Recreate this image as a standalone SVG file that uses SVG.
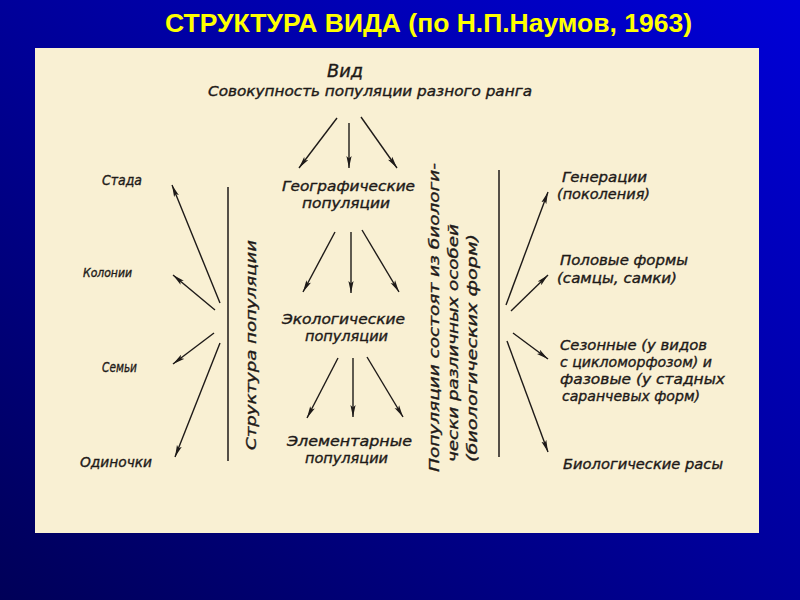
<svg xmlns="http://www.w3.org/2000/svg" width="800" height="600" viewBox="0 0 800 600">
  <defs>
    <linearGradient id="bg" x1="0" y1="1" x2="1" y2="0">
      <stop offset="0" stop-color="#000058"/>
      <stop offset="0.5" stop-color="#00009a"/>
      <stop offset="1" stop-color="#0000d8"/>
    </linearGradient>
    <marker id="ah" viewBox="0 0 12 6" refX="12" refY="3" markerWidth="12" markerHeight="6" markerUnits="userSpaceOnUse" orient="auto">
      <path d="M0,0.4 L12,3 L0,5.6 L2.5,3 z" fill="#1e1a18"/>
    </marker>
    <style>
      .ink { fill: #1e1a18; stroke: #1e1a18; stroke-width: 0.35; font-family: "DejaVu Sans", "Liberation Sans", sans-serif; font-style: oblique; font-stretch: condensed; font-size: 14.5px; }
      .big { font-size: 18px; }
      .sm { font-size: 13px; }
      .ln { stroke: #1e1a18; stroke-width: 1.5; fill: none; }
      .ar { stroke: #1e1a18; stroke-width: 1.4; fill: none; marker-end: url(#ah); }
      .title { fill: #ffff00; font-family: "Liberation Sans", Arial, sans-serif; font-weight: bold; font-size: 25px; }
    </style>
  </defs>
  <rect x="0" y="0" width="800" height="600" fill="url(#bg)"/>
  <text class="title" x="165" y="32" textLength="527" lengthAdjust="spacingAndGlyphs">СТРУКТУРА ВИДА (по Н.П.Наумов, 1963)</text>
  <rect x="35" y="48" width="724" height="485" fill="#f9f0d3"/>

  <g id="vid">
    <text class="ink big" x="327" y="77" textLength="36" lengthAdjust="spacingAndGlyphs">Вид</text>
    <text class="ink" x="208" y="96" textLength="324" lengthAdjust="spacingAndGlyphs">Совокупность популяции разного ранга</text>
  </g>
  <g id="geo">
    <text class="ink" x="282" y="191" textLength="133" lengthAdjust="spacingAndGlyphs">Географические</text>
    <text class="ink" x="302" y="208" textLength="88" lengthAdjust="spacingAndGlyphs">популяции</text>
  </g>
  <g id="eco">
    <text class="ink" x="282" y="324" textLength="123" lengthAdjust="spacingAndGlyphs">Экологические</text>
    <text class="ink" x="305" y="341" textLength="83" lengthAdjust="spacingAndGlyphs">популяции</text>
  </g>
  <g id="elem">
    <text class="ink" x="287" y="446" textLength="125" lengthAdjust="spacingAndGlyphs">Элементарные</text>
    <text class="ink" x="305" y="463" textLength="83" lengthAdjust="spacingAndGlyphs">популяции</text>
  </g>

  <g id="struktura">
    <text class="ink" transform="translate(256,450) rotate(-90)" x="0" y="0" textLength="210" lengthAdjust="spacingAndGlyphs">Структура популяции</text>
  </g>
  <g id="stada"><text class="ink" x="102" y="185" textLength="40" lengthAdjust="spacingAndGlyphs">Стада</text></g>
  <g id="kolonii"><text class="ink sm" x="83" y="277" textLength="49" lengthAdjust="spacingAndGlyphs">Колонии</text></g>
  <g id="semi"><text class="ink" x="102" y="372" textLength="35" lengthAdjust="spacingAndGlyphs">Семьи</text></g>
  <g id="odinochki"><text class="ink" x="80" y="467" textLength="72" lengthAdjust="spacingAndGlyphs">Одиночки</text></g>

  <g id="sostav">
    <text class="ink" transform="translate(439,472) rotate(-90)" x="0" y="0" textLength="309" lengthAdjust="spacingAndGlyphs">Популяции состоят из биологи-</text>
    <text class="ink" transform="translate(458,462) rotate(-90)" x="0" y="0" textLength="238" lengthAdjust="spacingAndGlyphs">чески различных      особей</text>
    <text class="ink" transform="translate(477,462) rotate(-90)" x="0" y="0" textLength="228" lengthAdjust="spacingAndGlyphs">(биологических форм)</text>
  </g>
  <g id="generacii">
    <text class="ink" x="562" y="182" textLength="85" lengthAdjust="spacingAndGlyphs">Генерации</text>
    <text class="ink" x="557" y="199" textLength="93" lengthAdjust="spacingAndGlyphs">(поколения)</text>
  </g>
  <g id="polovye">
    <text class="ink" x="560" y="265" textLength="128" lengthAdjust="spacingAndGlyphs">Половые формы</text>
    <text class="ink" x="557" y="283" textLength="120" lengthAdjust="spacingAndGlyphs">(самцы, самки)</text>
  </g>
  <g id="sezonnye">
    <text class="ink" x="560" y="350" textLength="147" lengthAdjust="spacingAndGlyphs">Сезонные (у видов</text>
    <text class="ink" x="560" y="367" textLength="152" lengthAdjust="spacingAndGlyphs">с цикломорфозом) и</text>
    <text class="ink" x="560" y="384" textLength="165" lengthAdjust="spacingAndGlyphs">фазовые (у стадных</text>
    <text class="ink" x="562" y="401" textLength="138" lengthAdjust="spacingAndGlyphs">саранчевых форм)</text>
  </g>
  <g id="rasy">
    <text class="ink" x="563" y="469" textLength="160" lengthAdjust="spacingAndGlyphs">Биологические расы</text>
  </g>

  <g id="connectors">
    <line class="ar" x1="337" y1="118" x2="299" y2="168"/>
    <line class="ar" x1="349" y1="123" x2="349" y2="168"/>
    <line class="ar" x1="361" y1="117" x2="397" y2="168"/>
    <line class="ar" x1="335" y1="232" x2="303" y2="292"/>
    <line class="ar" x1="351" y1="232" x2="351" y2="293"/>
    <line class="ar" x1="362" y1="230" x2="399" y2="292"/>
    <line class="ar" x1="338" y1="358" x2="307" y2="418"/>
    <line class="ar" x1="353" y1="358" x2="353" y2="417"/>
    <line class="ar" x1="367" y1="357" x2="403" y2="417"/>
    <line class="ln" x1="228" y1="187" x2="228" y2="461"/>
    <line class="ar" x1="220" y1="303" x2="172" y2="185"/>
    <line class="ar" x1="215" y1="310" x2="173" y2="275"/>
    <line class="ar" x1="214" y1="333" x2="173" y2="364"/>
    <line class="ar" x1="220" y1="343" x2="175" y2="457"/>
    <line class="ln" x1="499" y1="170" x2="499" y2="457"/>
    <line class="ar" x1="506" y1="305" x2="548" y2="192"/>
    <line class="ar" x1="511" y1="311" x2="548" y2="275"/>
    <line class="ar" x1="513" y1="333" x2="548" y2="359"/>
    <line class="ar" x1="507" y1="341" x2="548" y2="452"/>
  </g>
</svg>
